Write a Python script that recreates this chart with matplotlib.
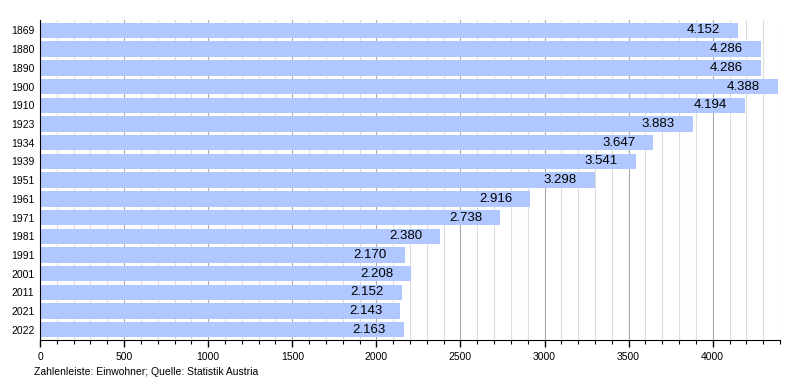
import matplotlib
matplotlib.use("Agg")
import matplotlib.pyplot as plt
from matplotlib.ticker import MultipleLocator

plt.rcParams["font.family"] = ["Liberation Sans", "DejaVu Sans"]

years = ["1869", "1880", "1890", "1900", "1910", "1923", "1934", "1939", "1951",
         "1961", "1971", "1981", "1991", "2001", "2011", "2021", "2022"]
population = [4152, 4286, 4286, 4388, 4194, 3883, 3647, 3541, 3298,
              2916, 2738, 2380, 2170, 2208, 2152, 2143, 2163]
value_labels = ["4.152", "4.286", "4.286", "4.388", "4.194", "3.883", "3.647", "3.541", "3.298",
                "2.916", "2.738", "2.380", "2.170", "2.208", "2.152", "2.143", "2.163"]

fig = plt.figure(figsize=(8, 3.8), dpi=100)
ax = fig.add_axes([0.05, 0.105, 0.925, 0.842])

ypos = list(range(len(years)))
ax.barh(ypos, population, height=0.82, color="#b0c8ff", zorder=2)
for y, v, lab in zip(ypos, population, value_labels):
    ax.annotate(lab, (v, y), xytext=(-13, 0), textcoords="offset points",
                ha="right", va="center", fontsize=9.5, color="black", zorder=3)

ax.set_xlim(0, 4400)
ax.set_ylim(16.55, -0.55)
ax.set_yticks(ypos)
ax.set_yticklabels(years, fontsize=7.5)
ax.tick_params(axis="y", length=0, pad=4)

ax.xaxis.set_major_locator(MultipleLocator(500))
ax.xaxis.set_minor_locator(MultipleLocator(100))
ax.tick_params(axis="x", which="major", length=5, width=1, labelsize=7.5, direction="out")
ax.tick_params(axis="x", which="minor", length=3, width=0.8, direction="out")
ax.grid(axis="x", which="major", color="#aaaaaa", linewidth=0.8, zorder=0)
ax.grid(axis="x", which="minor", color="#dddddd", linewidth=0.8, zorder=0)
ax.set_axisbelow(True)

for s in ["top", "right"]:
    ax.spines[s].set_visible(False)
ax.spines["left"].set_color("black")
ax.spines["bottom"].set_color("black")

fig.text(0.043, 0.008, "Zahlenleiste: Einwohner; Quelle: Statistik Austria", fontsize=7.5, ha="left", va="bottom")

fig.savefig("out.png", dpi=100)
